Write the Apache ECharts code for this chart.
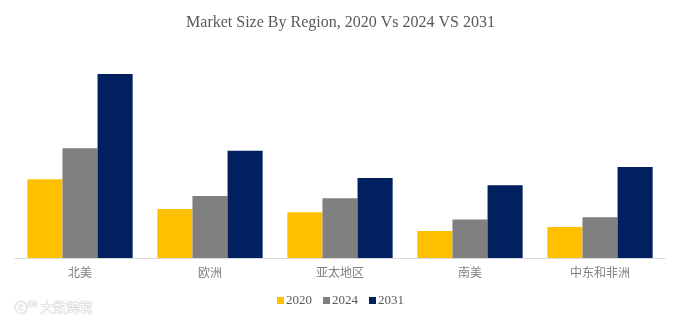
<!DOCTYPE html>
<html><head><meta charset="utf-8">
<script src="https://cdn.jsdelivr.net/npm/echarts@6/dist/echarts.min.js"></script>
<style>html,body{margin:0;padding:0;background:#fff}#c{width:681px;height:322px}</style>
</head><body><div id="c"></div>
<script>
const categories = ['北美', '欧洲', '亚太地区', '南美', '中东和非洲'];
const seriesNames = ['2020', '2024', '2031'];
const values2020 = [7.87, 4.90, 4.57, 2.70, 3.10];
const values2024 = [10.97, 6.20, 5.97, 3.84, 4.07];
const values2031 = [18.40, 10.73, 8.00, 7.27, 9.10];
const colors = ['#FFC000', '#808080', '#002060'];

const chart = echarts.init(document.getElementById('c'), null, {renderer: 'canvas'});
const serif = '"Liberation Serif", "Times New Roman", serif';
const dataSets = [values2020, values2024, values2031];
chart.setOption({
  animation: false,
  backgroundColor: '#fff',
  title: {
    text: 'Market Size By Region, 2020 Vs 2024 VS 2031',
    left: 'center', top: 10,
    textStyle: {fontFamily: serif, fontSize: 16, fontWeight: 'normal', color: '#595959'}
  },
  legend: {
    data: seriesNames,
    bottom: 10, left: 'center',
    itemWidth: 7, itemHeight: 7, itemGap: 11,
    icon: 'rect',
    textStyle: {fontFamily: serif, fontSize: 13, color: '#595959', padding: [0, 0, 0, -3]}
  },
  grid: {left: 15, right: 16, top: 70, bottom: 64},
  xAxis: {
    type: 'category', data: categories,
    axisLine: {lineStyle: {color: '#d9d9d9', width: 1}},
    axisTick: {show: false},
    axisLabel: {fontFamily: '"Noto Sans CJK SC", sans-serif', fontSize: 12, color: '#7f7f7f', margin: 8}
  },
  yAxis: {
    type: 'value', min: 0, max: 18.8, show: false,
    splitLine: {show: false}
  },
  series: seriesNames.map((n, i) => ({
    name: n, type: 'bar', data: dataSets[i],
    itemStyle: {color: colors[i]},
    barGap: '0%', barCategoryGap: '19%'
  })),
  graphic: [{
    type: 'text', left: 14, top: 300,
    style: {text: 'ⓒ⁰⁰ 大数跨境', fontSize: 13, fontFamily: '"Noto Sans CJK SC", sans-serif',
      fill: '#fff', stroke: '#d0d0d0', lineWidth: 1}
  }]
});
</script></body></html>
